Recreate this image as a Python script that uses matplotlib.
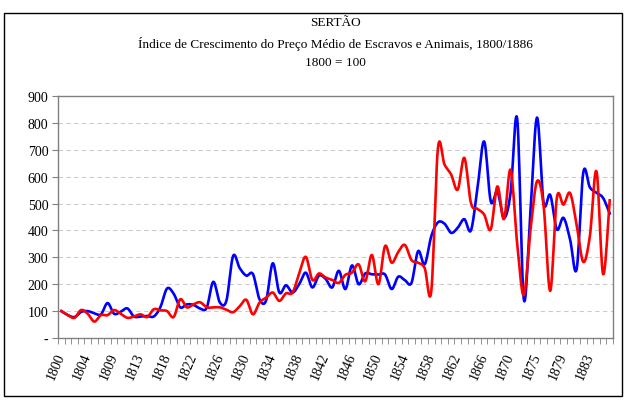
import numpy as np
import matplotlib.pyplot as plt
from matplotlib.patches import Rectangle

plt.rcParams['font.family'] = ['Liberation Serif', 'DejaVu Serif']

# anos da serie (faltam 1807, 1816 e 1873)
anos = [a for a in range(1800, 1887) if a not in (1807, 1816, 1873)]

escravos = [100, 85, 78, 97, 100, 92, 88, 130, 90, 98,
            110, 80, 80, 82, 80, 115, 184, 165, 114, 125,
            123, 110, 112, 209, 132, 140, 305, 260, 232, 238,
            144, 140, 278, 169, 196, 169, 200, 243, 188, 232,
            220, 188, 250, 182, 270, 200, 240, 237, 236, 236,
            182, 228, 215, 205, 323, 274, 379, 430, 425, 391,
            410, 442, 400, 560, 731, 508, 545, 447, 540, 815,
            144, 470, 820, 502, 532, 404, 447, 367, 256, 615,
            560, 540, 521, 463]

animais = [100, 85, 75, 104, 90, 61, 85, 85, 104, 90,
           75, 80, 88, 78, 107, 103, 100, 78, 144, 114,
           125, 133, 114, 114, 114, 105, 96, 118, 142, 88,
           132, 150, 169, 138, 166, 169, 240, 302, 216, 240,
           225, 216, 205, 235, 243, 274, 211, 309, 200, 342,
           280, 320, 346, 290, 280, 260, 175, 705, 645, 608,
           552, 670, 502, 480, 459, 404, 564, 442, 626, 350,
           159, 400, 583, 491, 175, 521, 496, 539, 420, 283,
           379, 620, 237, 512]

titulo = "SERTÃO\nÍndice de Crescimento do Preço Médio de Escravos e Animais, 1800/1886\n1800 = 100"


def suaviza(y, n=12):
    # curva tipo Catmull-Rom, como a linha suavizada do Excel
    y = np.asarray(y, float)
    x = np.arange(len(y), dtype=float)
    P = np.column_stack([x, y])
    P = np.vstack([P[0], P, P[-1]])
    out = []
    t = np.linspace(0, 1, n, endpoint=False)[:, None]
    for k in range(1, len(P) - 2):
        p0, p1, p2, p3 = P[k - 1], P[k], P[k + 1], P[k + 2]
        c = 0.5 * ((2 * p1) + (-p0 + p2) * t + (2 * p0 - 5 * p1 + 4 * p2 - p3) * t ** 2
                   + (-p0 + 3 * p1 - 3 * p2 + p3) * t ** 3)
        out.append(c)
    out.append(P[-2][None, :])
    out = np.vstack(out)
    return out[:, 0], out[:, 1]


fig = plt.figure(figsize=(6.26, 4.06), dpi=100)
ax = fig.add_axes([58 / 626, 67 / 406, 555 / 626, 242 / 406])

xs, ys = suaviza(escravos)
ax.plot(xs, ys, color='#0000ff', lw=1.9, solid_joinstyle='round')
xs, ys = suaviza(animais)
ax.plot(xs, ys, color='#ff0000', lw=1.9, solid_joinstyle='round')

n = len(anos)
ax.set_xlim(-0.5, n - 0.5)
ax.set_ylim(0, 900)

ax.set_yticks(range(0, 1000, 100))
ax.set_yticklabels(['-' if v == 0 else str(v) for v in range(0, 1000, 100)], fontsize=10)
for v in range(100, 900, 100):
    ax.axhline(v, color='#cccccc', lw=0.8, dashes=(4, 3), zorder=0)

pos = list(range(0, n, 4))
ax.set_xticks(pos)
ax.set_xticklabels([str(anos[i]) for i in pos], fontsize=10, rotation=67,
                   ha='right', va='center', rotation_mode='anchor')
ax.set_xticks(np.arange(-0.5, n, 1), minor=True)
ax.tick_params(axis='x', which='major', length=0, pad=11)
ax.tick_params(axis='x', which='minor', length=4, color='#808080')
ax.tick_params(axis='y', length=4, color='#808080', pad=3)

for s in ax.spines.values():
    s.set_color('#808080')
    s.set_linewidth(1)

fig.text(335 / 626, 1 - 43 / 406, titulo, ha='center', va='center',
         fontsize=9.5, linespacing=1.75)

fig.patches.append(Rectangle((4 / 626, 9 / 406), 618 / 626, 383 / 406,
                             transform=fig.transFigure, fill=False,
                             edgecolor='black', lw=1))

fig.savefig('out.png', dpi=100)
